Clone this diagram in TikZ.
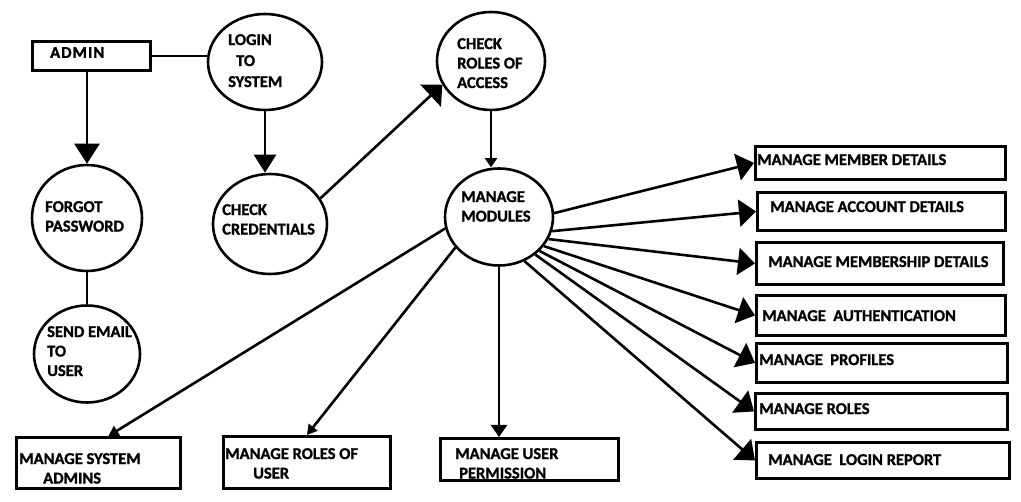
\documentclass[tikz,border=0pt]{standalone}
\usepackage{fontspec}
\setmainfont{Carlito}[BoldFeatures={FakeBold=1.2}]
\usetikzlibrary{arrows.meta,shapes.geometric}
\begin{document}
\begin{tikzpicture}[x=1pt,y=-1pt,
  circ/.style={ellipse, draw, line width=2.6pt, inner sep=0pt},
  box/.style={rectangle, draw, line width=2.9pt, inner sep=0pt, anchor=north west},
  txt/.style={font=\fontsize{16.5}{19.5}\selectfont\bfseries, align=left, inner sep=0pt, anchor=north west},
  ln/.style={line width=2.6pt},
  bigtip/.style={-{Triangle[length=17pt,width=27pt]}},
  smalltip/.style={-{Triangle[length=10pt,width=11pt]}}
]
\useasboundingbox (0,0) rectangle (1021,502);
% ---------- shapes ----------
\node[box, minimum width=118pt, minimum height=29pt] (admin) at (31,40) {};
\node[circ, minimum width=114pt, minimum height=96pt] (login) at (265,62) {};
\node[circ, minimum width=110pt, minimum height=106pt] (forgot) at (87,218) {};
\node[circ, minimum width=106pt, minimum height=97pt] (send) at (87,354) {};
\node[circ, minimum width=114pt, minimum height=100pt] (cc) at (270,224) {};
\node[circ, minimum width=108pt, minimum height=98pt] (cr) at (491,61) {};
\node[circ, minimum width=108pt, minimum height=97pt] (mm) at (499,217) {};
% right boxes
\node[box, minimum width=250pt, minimum height=33pt] (b1) at (754,145) {};
\node[box, minimum width=248pt, minimum height=38pt] (b2) at (756,191) {};
\node[box, minimum width=247pt, minimum height=42pt] (b3) at (755,241) {};
\node[box, minimum width=249pt, minimum height=40pt] (b4) at (755,294) {};
\node[box, minimum width=251pt, minimum height=39pt] (b5) at (755,342) {};
\node[box, minimum width=252pt, minimum height=36pt] (b6) at (754,392) {};
\node[box, minimum width=253pt, minimum height=36pt] (b7) at (755,441) {};
% bottom boxes
\node[box, minimum width=164pt, minimum height=51pt] (sysad) at (15,436) {};
\node[box, minimum width=167pt, minimum height=52pt] (rolesu) at (222,435) {};
\node[box, minimum width=178pt, minimum height=42pt] (perm) at (439,437) {};
% ---------- texts ----------
\node[txt] (adminT) at (50,47) {\addfontfeature{LetterSpace=6}ADMIN};
\node[txt, font=\fontsize{16.5}{21}\selectfont\bfseries] (loginT) at (228,34) {LOGIN\\\hspace*{8pt}TO\\SYSTEM};
\node[txt] (forgotT) at (45,201) {FORGOT\\PASSWORD};
\node[txt] (sendT) at (47,326) {SEND EMAIL\\TO\\USER};
\node[txt] (ccT) at (222,204) {CHECK\\CREDENTIALS};
\node[txt] (crT) at (457,38) {CHECK\\ROLES OF\\ACCESS};
\node[txt] (mmT) at (461,191) {MANAGE\\MODULES};
\node[txt] (b1T) at (757,154) {MANAGE MEMBER DETAILS};
\node[txt] (b2T) at (770,201) {MANAGE ACCOUNT DETAILS};
\node[txt] (b3T) at (768,256) {MANAGE MEMBERSHIP DETAILS};
\node[txt] (b4T) at (762,310) {MANAGE~~AUTHENTICATION};
\node[txt] (b5T) at (759,354) {MANAGE~~PROFILES};
\node[txt] (b6T) at (759,403) {MANAGE ROLES};
\node[txt] (b7T) at (768,454) {MANAGE~~LOGIN REPORT};
\node[txt] (sysadT) at (19,453) {MANAGE SYSTEM\\\hspace*{24pt}ADMINS};
\node[txt] (rolesuT) at (225,448) {MANAGE ROLES OF\\\hspace*{28pt}USER};
\node[txt] (permT) at (455,448) {MANAGE USER\\\hspace*{4pt}PERMISSION};
% ---------- connectors ----------
\draw[ln] (admin.east) -- (admin.east -| login.west);
\draw[ln, -{Triangle[length=20pt,width=25pt]}] (admin.south -| forgot.north) -- (forgot.north);
\draw[ln] (forgot.south) -- (send.north);
\draw[ln, -{Triangle[length=18pt,width=22pt]}] (login.south) -- (login.south |- cc.north);
\draw[ln, -{Triangle[length=16pt,width=30pt]}] (cc.27) -- (cr.206);
\draw[ln, -{Triangle[length=9pt,width=12pt]}] (cr.south) -- (cr.south |- mm.north);
\draw[ln, bigtip] (mm.4) -- (b1.west);
\draw[ln, bigtip] (mm.345) -- (b2.west);
\draw[ln, bigtip] (mm.336) -- (b3.west);
\draw[ln, bigtip] (mm.327) -- (b4.west);
\draw[ln, bigtip] (mm.320) -- (b5.west);
\draw[ln, bigtip] (mm.314) -- (b6.west);
\draw[ln, bigtip] (mm.300) -- (b7.west);
\draw[ln, smalltip] (mm.192) -- ([xshift=10pt]sysad.north);
\draw[ln, smalltip] (mm.215) -- (rolesu.north);
\draw[ln, -{Triangle[length=12pt,width=16pt]}] (mm.south) -- (mm.south |- perm.north);
\end{tikzpicture}
\end{document}
